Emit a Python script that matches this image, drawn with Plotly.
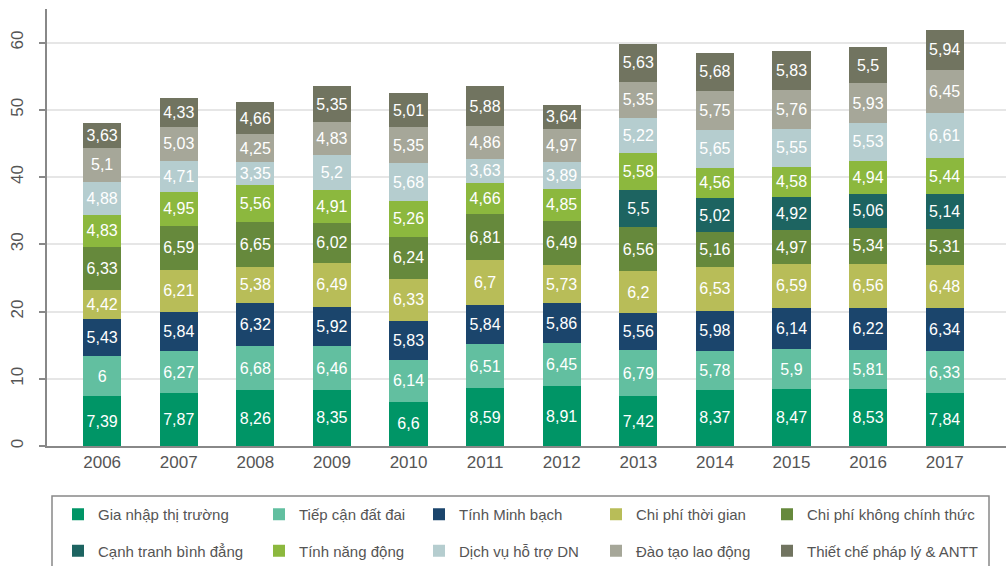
import plotly.graph_objects as go

years = ["2006", "2007", "2008", "2009", "2010", "2011", "2012", "2013", "2014", "2015", "2016", "2017"]

gia_nhap = [7.39, 7.87, 8.26, 8.35, 6.6, 8.59, 8.91, 7.42, 8.37, 8.47, 8.53, 7.84]
tiep_can = [6, 6.27, 6.68, 6.46, 6.14, 6.51, 6.45, 6.79, 5.78, 5.9, 5.81, 6.33]
minh_bach = [5.43, 5.84, 6.32, 5.92, 5.83, 5.84, 5.86, 5.56, 5.98, 6.14, 6.22, 6.34]
cp_thoi_gian = [4.42, 6.21, 5.38, 6.49, 6.33, 6.7, 5.73, 6.2, 6.53, 6.59, 6.56, 6.48]
cp_khong_ct = [6.33, 6.59, 6.65, 6.02, 6.24, 6.81, 6.49, 6.56, 5.16, 4.97, 5.34, 5.31]
canh_tranh = [None, None, None, None, None, None, None, 5.5, 5.02, 4.92, 5.06, 5.14]
nang_dong = [4.83, 4.95, 5.56, 4.91, 5.26, 4.66, 4.85, 5.58, 4.56, 4.58, 4.94, 5.44]
dich_vu = [4.88, 4.71, 3.35, 5.2, 5.68, 3.63, 3.89, 5.22, 5.65, 5.55, 5.53, 6.61]
dao_tao = [5.1, 5.03, 4.25, 4.83, 5.35, 4.86, 4.97, 5.35, 5.75, 5.76, 5.93, 6.45]
thiet_che = [3.63, 4.33, 4.66, 5.35, 5.01, 5.88, 3.64, 5.63, 5.68, 5.83, 5.5, 5.94]

series = [
    ("Gia nhập thị trường", gia_nhap, "#009566"),
    ("Tiếp cận đất đai", tiep_can, "#62bfa0"),
    ("Tính Minh bạch", minh_bach, "#1b456c"),
    ("Chi phí thời gian", cp_thoi_gian, "#b8bd58"),
    ("Chi phí không chính thức", cp_khong_ct, "#66893c"),
    ("Cạnh tranh bình đẳng", canh_tranh, "#1d6461"),
    ("Tính năng động", nang_dong, "#8cb83e"),
    ("Dịch vụ hỗ trợ DN", dich_vu, "#b5cdcf"),
    ("Đào tạo lao động", dao_tao, "#a6a799"),
    ("Thiết chế pháp lý & ANTT", thiet_che, "#717460"),
]

legend_names = ["legend", "legend2", "legend3", "legend4", "legend5"]

fig = go.Figure()
xs = list(range(len(years)))
for i, (name, vals, color) in enumerate(series):
    txt = ["" if v is None else str(v).replace(".", ",") for v in vals]
    fig.add_trace(go.Bar(
        x=xs, y=vals, name=name, marker=dict(color=color, line=dict(width=0)),
        text=txt, textposition="inside", insidetextanchor="middle",
        textangle=0, constraintext="none",
        textfont=dict(color="white", size=16, family="Liberation Sans"),
        width=0.5, legend=legend_names[i % 5], legendgroup=name,
        hoverinfo="skip",
    ))

W, H = 1006, 566
ml, mr, mt, mb = 47, 0, 9, 120
pw, ph = W - ml - mr, H - mt - mb

def px_x(p):
    return (p - ml) / pw

def px_y(p):
    return (H - mb - p) / ph

col_px = [58, 259, 419, 596, 767]
leg_common = dict(
    orientation="v", traceorder="grouped", tracegroupgap=14,
    font=dict(size=15, color="#555555", family="Liberation Sans"),
    bgcolor="rgba(0,0,0,0)", borderwidth=0,
    xanchor="left", yanchor="top", itemclick=False, itemdoubleclick=False,
)
leg_layout = {}
for k, lp in zip(legend_names, col_px):
    leg_layout[k] = dict(leg_common, x=px_x(lp), y=px_y(498))

fig.update_layout(
    width=W, height=H, barmode="stack",
    margin=dict(l=ml, r=mr, t=mt, b=mb, autoexpand=False),
    plot_bgcolor="white", paper_bgcolor="white",
    font=dict(family="Liberation Sans", color="#555555"),
    showlegend=True,
    xaxis=dict(
        tickvals=xs, ticktext=years, range=[-0.72, 11.8],
        showline=True, linecolor="#888888", linewidth=2, ticks="",
        tickfont=dict(size=17, color="#555555"), showgrid=False, zeroline=False,
    ),
    yaxis=dict(
        range=[0, 65], tickvals=[0, 10, 20, 30, 40, 50, 60], tickangle=-90,
        showline=True, linecolor="#888888", linewidth=2,
        ticks="outside", ticklen=6, tickcolor="#888888", tickwidth=1.5,
        ticklabelstandoff=9,
        showgrid=True, gridcolor="#e6e6e6", gridwidth=2, zeroline=False,
        tickfont=dict(size=17, color="#555555"),
    ),
    shapes=[dict(
        type="rect", xref="paper", yref="paper",
        x0=px_x(52), x1=px_x(989), y0=px_y(496), y1=px_y(572),
        line=dict(color="#888888", width=1.5), fillcolor="rgba(0,0,0,0)",
    )],
    **leg_layout,
)

fig.write_html(
    "out.html",
    config={"displayModeBar": False},
    post_script="document.body.style.margin='0';document.body.style.padding='0';",
)
